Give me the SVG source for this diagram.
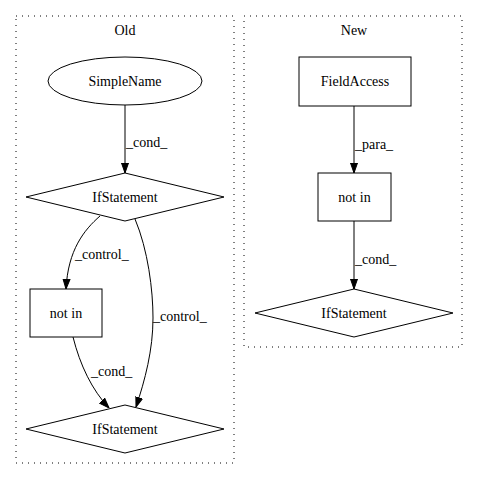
<svg xmlns="http://www.w3.org/2000/svg" width="480" height="480" viewBox="0 0 480 480">
<defs>
<marker id="arr" viewBox="0 0 10 10" refX="10" refY="5" markerWidth="10" markerHeight="10" markerUnits="userSpaceOnUse" orient="auto">
<path d="M0,1.5 L10,5 L0,8.5 Z" fill="#000" stroke="#000" stroke-width="1"/>
</marker>
</defs>
<style>
text{font-family:"Liberation Serif","Times New Roman",serif;font-size:14px;fill:#000}
.c{text-anchor:middle}
.cl{fill:none;stroke:#000;stroke-width:1;stroke-dasharray:1,5}
.n{fill:#fff;stroke:#000;stroke-width:1}
.e{fill:none;stroke:#000;stroke-width:1;marker-end:url(#arr)}
</style>
<rect width="480" height="480" fill="#fff"/>
<g id="cluster_old">
<rect class="cl" x="16" y="16" width="218" height="447"/>
<text class="c" x="125" y="35">Old</text>
</g>
<g id="cluster_new">
<rect class="cl" x="244" y="16" width="218" height="331"/>
<text class="c" x="354" y="35">New</text>
</g>
<g id="edges">
<path class="e" d="M125,105 L125,173"/>
<text x="126" y="147">_cond_</text>
<path class="e" d="M100,216 C84,230 68,250 66,289"/>
<text x="75" y="259">_control_</text>
<path class="e" d="M135,219 C148,250 153,290 153,318 C153,350 145,380 136,407"/>
<text x="153" y="321">_control_</text>
<path class="e" d="M73,337 C80,365 92,390 109,408"/>
<text x="91" y="376">_cond_</text>
<path class="e" d="M354,106 L354,173"/>
<text x="355" y="149">_para_</text>
<path class="e" d="M354,221 L354,289"/>
<text x="355" y="264">_cond_</text>
</g>
<g id="old_simplename">
<ellipse class="n" cx="125" cy="81" rx="77" ry="24"/>
<text class="c" x="125" y="86">SimpleName</text>
</g>
<g id="old_if1">
<polygon class="n" points="125,173 224,197 125,221 26,197"/>
<text class="c" x="125" y="202">IfStatement</text>
</g>
<g id="old_notin">
<rect class="n" x="30" y="289" width="72" height="48"/>
<text class="c" x="66" y="318">not in</text>
</g>
<g id="old_if2">
<polygon class="n" points="125,405 224,429 125,453 26,429"/>
<text class="c" x="125" y="434">IfStatement</text>
</g>
<g id="new_fieldaccess">
<rect class="n" x="299" y="57" width="112" height="49"/>
<text class="c" x="355" y="86">FieldAccess</text>
</g>
<g id="new_notin">
<rect class="n" x="318" y="173" width="73" height="48"/>
<text class="c" x="354.5" y="202">not in</text>
</g>
<g id="new_if">
<polygon class="n" points="354,289 453,313 354,337 255,313"/>
<text class="c" x="354" y="318">IfStatement</text>
</g>
</svg>
